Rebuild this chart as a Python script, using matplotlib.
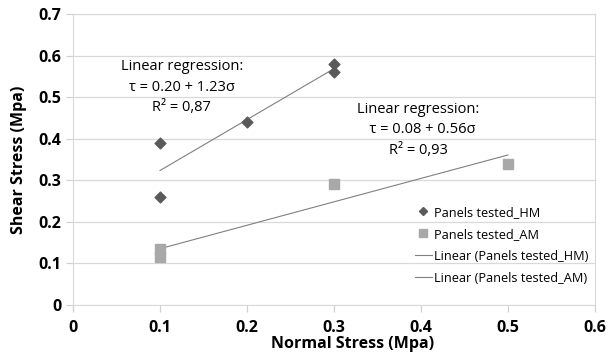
import numpy as np
import matplotlib.pyplot as plt
from matplotlib.lines import Line2D

plt.rcParams['font.family'] = ['Open Sans', 'DejaVu Sans']

# data
hm_x = [0.1, 0.1, 0.2, 0.3, 0.3]
hm_y = [0.39, 0.26, 0.44, 0.58, 0.56]
am_x = [0.1, 0.1, 0.3, 0.5]
am_y = [0.135, 0.115, 0.29, 0.34]

x_ticks = [0, 0.1, 0.2, 0.3, 0.4, 0.5, 0.6]
y_ticks = [0, 0.1, 0.2, 0.3, 0.4, 0.5, 0.6, 0.7]

fig = plt.figure(figsize=(6.08, 3.56), dpi=100)
ax = fig.add_axes([73 / 608, 1 - 305 / 356, (595 - 73) / 608, (305 - 14) / 356])

ax.scatter(hm_x, hm_y, marker='D', s=30, color='#5a5a5a', zorder=3, label='Panels tested_HM')
ax.scatter(am_x, am_y, marker='s', s=45, color='#a8a8a8', zorder=3, label='Panels tested_AM')

# linear trendlines
for xs, ys, lab in [(hm_x, hm_y, 'Linear (Panels tested_HM)'),
                    (am_x, am_y, 'Linear (Panels tested_AM)')]:
    k, b = np.polyfit(xs, ys, 1)
    xx = np.array([min(xs), max(xs)])
    ax.plot(xx, k * xx + b, color='#808080', lw=0.8, zorder=2, label=lab)

ax.set_xlim(0, 0.6)
ax.set_ylim(0, 0.7)
ax.set_xticks(x_ticks)
ax.set_xticklabels([f'{v:g}' for v in x_ticks])
ax.set_yticks(y_ticks)
ax.set_yticklabels([f'{v:g}' for v in y_ticks])
ax.grid(axis='y', color='#d9d9d9', lw=0.9)
ax.set_axisbelow(True)
for sp in ax.spines.values():
    sp.set_color('#d9d9d9')
ax.tick_params(colors='#d0d0d0', labelcolor='black', length=5, width=0.9)
for lbl in ax.get_xticklabels() + ax.get_yticklabels():
    lbl.set_fontsize(11.5)
    lbl.set_fontweight('bold')
ax.tick_params(axis='x', pad=6)

ax.set_xlabel('Normal Stress (Mpa)', fontsize=11.5, fontweight='bold')
ax.xaxis.set_label_coords(0.535, -0.108)
ax.set_ylabel('Shear Stress (Mpa)', fontsize=11.5, fontweight='bold')
ax.yaxis.set_label_coords(-0.088, 0.5)

ax.text(0.125, 0.524, 'Linear regression:\nτ = 0.20 + 1.23σ\nR² = 0,87',
        ha='center', va='center', fontsize=10.5, linespacing=1.5)
ax.text(0.397, 0.421, 'Linear regression:\n  τ = 0.08 + 0.56σ\nR² = 0,93',
        ha='center', va='center', fontsize=10.5, linespacing=1.5)

handles = [
    Line2D([], [], marker='D', color='#5a5a5a', ls='none', markersize=4),
    Line2D([], [], marker='s', color='#a8a8a8', ls='none', markersize=6),
    Line2D([], [], color='#808080', lw=0.8),
    Line2D([], [], color='#808080', lw=0.8),
]
labels = ['Panels tested_HM', 'Panels tested_AM',
          'Linear (Panels tested_HM)', 'Linear (Panels tested_AM)']
ax.legend(handles, labels, loc='lower right', bbox_to_anchor=(1.01, 0.03),
          frameon=False, fontsize=9.2, handlelength=1.3, handletextpad=0.2,
          labelspacing=0.7)

fig.savefig('out.png', dpi=100)
